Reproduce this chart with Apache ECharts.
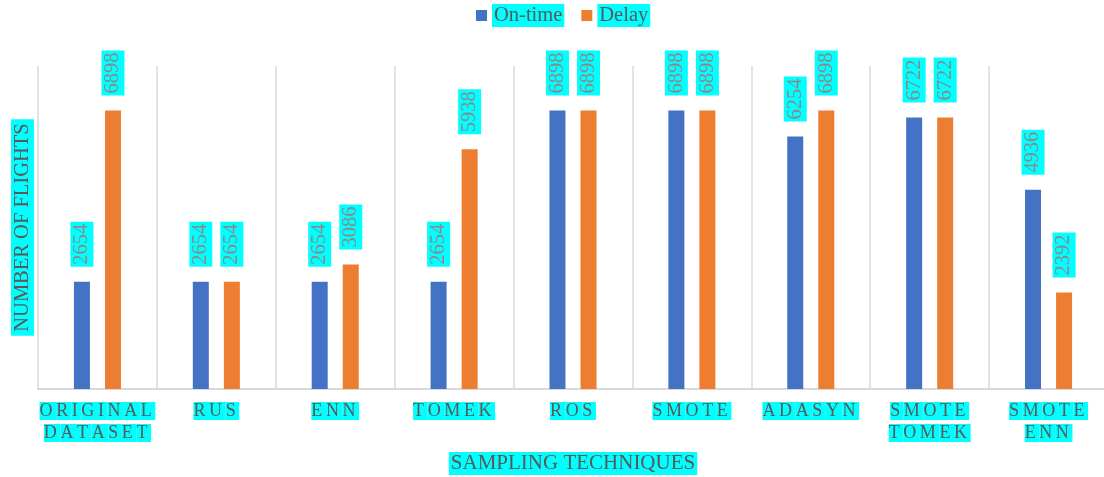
<!DOCTYPE html>
<html>
<head>
<meta charset="utf-8">
<script src="https://cdn.jsdelivr.net/npm/echarts@6/dist/echarts.min.js"></script>
<style>
  html, body { margin: 0; padding: 0; background: #ffffff; }
  #chart { width: 1104px; height: 477px; }
</style>
</head>
<body>
<div id="chart"></div>
<script>
// Sampling techniques and flight counts per class
const categories = [
  'ORIGINAL\nDATASET', 'RUS', 'ENN', 'TOMEK', 'ROS',
  'SMOTE', 'ADASYN', 'SMOTE\nTOMEK', 'SMOTE\nENN'
];
const onTime = [2654, 2654, 2654, 2654, 6898, 6898, 6254, 6722, 4936];
const delay  = [6898, 2654, 3086, 5938, 6898, 6898, 6898, 6722, 2392];
const seriesNames = ['On-time', 'Delay'];
const xTitle = 'SAMPLING TECHNIQUES';
const yTitle = 'NUMBER OF FLIGHTS';

const FONT = '"Liberation Serif", "Times New Roman", serif';
const CYAN = '#00ffff';
const TEXT = '#595959';

// each letter is its own rich token so the letters can be spread apart
function spaced(line) {
  return line.split('').map(function (ch) {
    return ch === ' ' ? '{s| }' : '{c|' + ch + '}';
  }).join('');
}

const barLabel = {
  show: true,
  position: 'top',
  rotate: 90,
  align: 'left',
  verticalAlign: 'middle',
  distance: 15,
  fontFamily: FONT,
  fontSize: 20.5,
  color: '#8a8a8a',
  backgroundColor: CYAN,
  padding: [1, 2, 1, 2]
};

const chart = echarts.init(document.getElementById('chart'), null, { renderer: 'canvas' });

chart.setOption({
  animation: false,
  backgroundColor: '#ffffff',
  textStyle: { fontFamily: FONT },
  legend: {
    data: seriesNames,
    left: 476,
    top: 4,
    padding: 0,
    icon: 'rect',
    itemWidth: 11,
    itemHeight: 11,
    itemGap: 17,
    textStyle: {
      fontFamily: FONT,
      fontSize: 20.5,
      color: TEXT,
      backgroundColor: CYAN,
      padding: [1, 2, 1, 2]
    }
  },
  grid: { left: 38, width: 1070, top: 66, bottom: 88, outerBoundsMode: 'none' },
  xAxis: {
    type: 'category',
    data: categories,
    boundaryGap: true,
    name: xTitle,
    nameLocation: 'middle',
    nameGap: 63,
    nameTextStyle: {
      fontFamily: FONT,
      fontSize: 21,
      color: TEXT,
      backgroundColor: CYAN,
      padding: [1, 2, 1, 2]
    },
    axisLine: { show: true, lineStyle: { color: '#d9d9d9', width: 2 } },
    axisTick: { show: false },
    splitLine: { show: true, lineStyle: { color: '#d9d9d9', width: 1.5 } },
    axisLabel: {
      interval: 0,
      margin: 11,
      formatter: function (v) {
        return v.split('\n').map(spaced).join('\n');
      },
      rich: {
        c: {
          fontFamily: FONT,
          fontSize: 18,
          lineHeight: 22,
          color: TEXT,
          backgroundColor: CYAN,
          padding: [0, 3.6, 0, 0]
        },
        s: {
          fontFamily: FONT,
          fontSize: 18,
          lineHeight: 22,
          color: TEXT,
          backgroundColor: CYAN
        }
      }
    }
  },
  yAxis: {
    type: 'value',
    min: 0,
    max: 8000,
    name: yTitle,
    nameLocation: 'middle',
    nameGap: 4,
    nameRotate: 90,
    nameTextStyle: {
      fontFamily: FONT,
      fontSize: 20.5,
      color: TEXT,
      backgroundColor: CYAN,
      padding: [1, 4, 1, 4]
    },
    axisLine: { show: false },
    axisTick: { show: false },
    axisLabel: { show: false },
    splitLine: { show: false }
  },
  series: [
    {
      name: seriesNames[0],
      type: 'bar',
      data: onTime,
      barWidth: 16,
      barGap: '94%',
      itemStyle: { color: '#4472c4' },
      label: barLabel
    },
    {
      name: seriesNames[1],
      type: 'bar',
      data: delay,
      barWidth: 16,
      barGap: '94%',
      itemStyle: { color: '#ed7d31' },
      label: barLabel
    }
  ]
});
</script>
</body>
</html>
